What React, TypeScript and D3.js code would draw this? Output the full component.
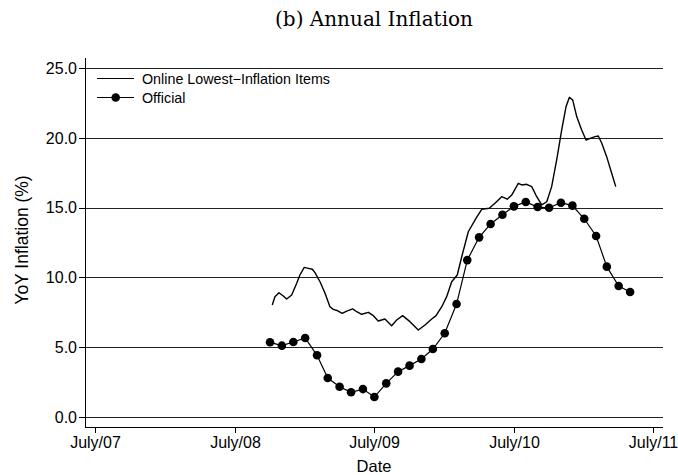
import React from 'react';
import * as d3 from 'd3';

const yTicks = [0, 5, 10, 15, 20, 25];
const xTickDates = ['2007-07-01', '2008-07-01', '2009-07-01', '2010-07-01', '2011-07-01'];
const xTickLabels = ['July/07', 'July/08', 'July/09', 'July/10', 'July/11'];

const officialStart = '2008-10-01';
const officialValues = [
  5.35, 5.11, 5.37, 5.66, 4.42, 2.79, 2.17, 1.77, 2.0, 1.43, 2.41, 3.25, 3.68, 4.15, 4.87, 6.0,
  8.09, 11.24, 12.87, 13.83, 14.49, 15.09, 15.4, 15.04, 14.99, 15.35, 15.14, 14.2, 12.97, 10.77,
  9.38, 8.95,
];

// decimal years (July 1, 2007 = 2007.5)
const onlineTimes = [
  2008.77, 2008.789, 2008.818, 2008.849, 2008.873, 2008.909, 2008.945, 2008.968, 2008.999,
  2009.028, 2009.057, 2009.076, 2009.112, 2009.148, 2009.183, 2009.207, 2009.239, 2009.271,
  2009.303, 2009.346, 2009.375, 2009.41, 2009.458, 2009.494, 2009.529, 2009.577, 2009.625,
  2009.661, 2009.704, 2009.756, 2009.816, 2009.864, 2009.912, 2009.943, 2009.984, 2010.019,
  2010.055, 2010.095, 2010.127, 2010.174, 2010.229, 2010.27, 2010.324, 2010.365, 2010.413,
  2010.453, 2010.485, 2010.532, 2010.557, 2010.592, 2010.628, 2010.664, 2010.7, 2010.736,
  2010.771, 2010.807, 2010.843, 2010.874, 2010.898, 2010.922, 2010.951, 2010.986, 2011.017,
  2011.046, 2011.082, 2011.105, 2011.13, 2011.165, 2011.201, 2011.23,
];
const onlineValues = [
  8.02, 8.62, 8.9, 8.67, 8.45, 8.74, 9.58, 10.17, 10.72, 10.65, 10.58, 10.34, 9.69, 8.86, 7.9,
  7.71, 7.61, 7.43, 7.59, 7.74, 7.54, 7.36, 7.5, 7.26, 6.88, 7.02, 6.54, 6.95, 7.26, 6.83, 6.23,
  6.59, 7.02, 7.26, 7.9, 8.62, 9.69, 10.17, 11.48, 13.27, 14.23, 14.88, 14.95, 15.31, 15.78, 15.6,
  15.9, 16.74, 16.62, 16.67, 16.5, 15.78, 15.19, 15.42, 16.5, 18.41, 20.56, 22.23, 22.9, 22.7,
  21.5, 20.56, 19.84, 19.96, 20.08, 20.13, 19.61, 18.65, 17.46, 16.5,
];

const parse = d3.timeParse('%Y-%m-%d');
const base = parse('2007-07-01') as Date;
const toDate = (t: number) => new Date(base.getTime() + (t - 2007.5) * 365.25 * 86400000);

const W = 678;
const H = 475;
const left = 85;
const right = 663;
const top = 58;
const bottom = 427;

const SANS = '"Liberation Sans", Arial, Helvetica, sans-serif';

export default function App() {
  const x = d3
    .scaleTime()
    .domain([parse('2007-06-05') as Date, parse('2011-07-26') as Date])
    .range([left, right]);
  const y = d3.scaleLinear().domain([-0.716, 25.716]).range([bottom, top]);

  const officialDates = officialValues.map((_, i) =>
    d3.timeMonth.offset(parse(officialStart) as Date, i)
  );
  const official = officialValues.map((v, i) => [officialDates[i], v] as [Date, number]);
  const online = onlineValues.map((v, i) => [toDate(onlineTimes[i]), v] as [Date, number]);

  const line = d3
    .line<[Date, number]>()
    .x((d) => x(d[0]))
    .y((d) => y(d[1]));

  return (
    <svg
      width={W}
      height={H}
      style={{ position: 'absolute', left: 0, top: 0, background: '#fff' }}
    >
      <rect x={0} y={0} width={W} height={H} fill="#fff" />
      <text
        x={374}
        y={26}
        textAnchor="middle"
        fontFamily='"DejaVu Serif", "Liberation Serif", serif'
        fontSize={20}
        fill="#000"
      >
        (b) Annual Inflation
      </text>

      {/* grid */}
      {yTicks.map((t) => (
        <line
          key={'g' + t}
          x1={left}
          x2={right}
          y1={Math.round(y(t)) + 0.5}
          y2={Math.round(y(t)) + 0.5}
          stroke="#222"
          strokeWidth={1}
        />
      ))}

      {/* y axis */}
      <line x1={left + 0.5} x2={left + 0.5} y1={top} y2={bottom} stroke="#000" strokeWidth={1} />
      {yTicks.map((t) => (
        <g key={'y' + t}>
          <line
            x1={left - 6}
            x2={left}
            y1={Math.round(y(t)) + 0.5}
            y2={Math.round(y(t)) + 0.5}
            stroke="#000"
          />
          <text
            x={left - 8}
            y={y(t)}
            dy="0.36em"
            textAnchor="end"
            fontFamily={SANS}
            fontSize={16}
            fill="#000"
          >
            {t.toFixed(1)}
          </text>
        </g>
      ))}

      {/* x axis */}
      <line x1={left} x2={right} y1={bottom + 0.5} y2={bottom + 0.5} stroke="#000" strokeWidth={1} />
      {xTickDates.map((d, i) => {
        const xx = Math.round(x(parse(d) as Date)) + 0.5;
        return (
          <g key={'x' + d}>
            <line x1={xx} x2={xx} y1={bottom} y2={bottom + 6} stroke="#000" />
            <text
              x={xx}
              y={448}
              textAnchor="middle"
              fontFamily={SANS}
              fontSize={16}
              fill="#000"
            >
              {xTickLabels[i]}
            </text>
          </g>
        );
      })}

      <text x={374} y={472} textAnchor="middle" fontFamily={SANS} fontSize={16.5} fill="#000">
        Date
      </text>
      <text
        transform={`translate(28,${240}) rotate(-90)`}
        textAnchor="middle"
        fontFamily={SANS}
        fontSize={17.5}
        fill="#000"
      >
        YoY Inflation (%)
      </text>

      {/* series */}
      <path d={line(online) || ''} fill="none" stroke="#000" strokeWidth={1.4} strokeLinejoin="round" />
      <path d={line(official) || ''} fill="none" stroke="#000" strokeWidth={1.2} />
      {official.map((d, i) => (
        <circle key={'c' + i} cx={x(d[0])} cy={y(d[1])} r={4.3} fill="#000" />
      ))}

      {/* legend */}
      <line x1={97} x2={134} y1={78.5} y2={78.5} stroke="#000" strokeWidth={1.2} />
      <text x={142} y={78.5} dy="0.36em" fontFamily={SANS} fontSize={14.3} fill="#000">
        Online Lowest−Inflation Items
      </text>
      <line x1={97} x2={134} y1={97.5} y2={97.5} stroke="#000" strokeWidth={1.2} />
      <circle cx={115.7} cy={97.5} r={4.3} fill="#000" />
      <text x={142} y={97.5} dy="0.36em" fontFamily={SANS} fontSize={14.3} fill="#000">
        Official
      </text>
    </svg>
  );
}
